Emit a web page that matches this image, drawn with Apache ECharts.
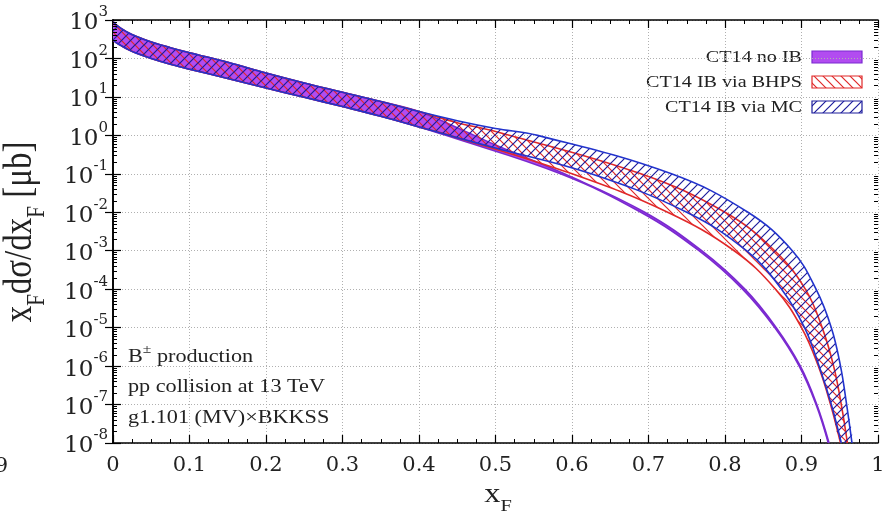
<!DOCTYPE html>
<html>
<head>
<meta charset="utf-8">
<script src="https://cdn.jsdelivr.net/npm/echarts@6/dist/echarts.min.js"></script>
<style>
  html, body { margin: 0; padding: 0; background: #fff; }
  #chart { width: 893px; height: 518px; }
</style>
</head>
<body>
<div id="chart"></div>
<script>
// ---- x_F sample points and band edges, x_F dσ/dx_F in μb ----
// region where all three predictions coincide
const X_LOW     = [0, 0.005, 0.01, 0.02, 0.03, 0.05, 0.075, 0.1, 0.15, 0.2, 0.25, 0.3, 0.35, 0.4];
const UPPER_LOW = [891, 724, 617, 468, 380, 269, 191, 141, 79.4, 41.7, 22.9, 13.2, 7.59, 4.17];
const LOWER_LOW = [302, 251, 219, 170, 138, 100, 70.8, 52.5, 30.2, 17.0, 9.77, 5.62, 3.16, 1.66];

// CT14 no IB
const X_NOIB_LO = [0.435, 0.585, 0.69, 0.766, 0.823, 0.865, 0.897, 0.919, 0.935];
const NOIB_LO   = [1.0, 0.1, 1e-2, 1e-3, 1e-4, 1e-5, 1e-6, 1e-7, 1e-8];
const X_NOIB_HI = [0.45, 0.5, 0.59, 0.695, 0.7695, 0.826, 0.867, 0.8985, 0.92, 0.936];
const NOIB_HI   = [1.58, 0.562, 0.1, 1e-2, 1e-3, 1e-4, 1e-5, 1e-6, 1e-7, 1e-8];

// CT14 IB via BHPS
const X_BHPS_LO = [0.44, 0.6, 0.725, 0.812, 0.866, 0.9, 0.922, 0.938, 0.951];
const BHPS_LO   = [1.0, 0.1, 1e-2, 1e-3, 1e-4, 1e-5, 1e-6, 1e-7, 1e-8];
const X_BHPS_HI = [0.45, 0.5, 0.69, 0.8, 0.865, 0.905, 0.927, 0.942, 0.952, 0.96];
const BHPS_HI   = [2.14, 1.26, 0.1, 1e-2, 1e-3, 1e-4, 1e-5, 1e-6, 1e-7, 1e-8];

// CT14 IB via MC
const X_MC_LO = [0.45, 0.5, 0.625, 0.75, 0.828, 0.874, 0.904, 0.923, 0.939, 0.952];
const MC_LO   = [0.871, 0.468, 0.1, 1e-2, 1e-3, 1e-4, 1e-5, 1e-6, 1e-7, 1e-8];
const X_MC_HI = [0.45, 0.5, 0.555, 0.73, 0.83, 0.888, 0.919, 0.939, 0.951, 0.959, 0.966];
const MC_HI   = [2.40, 1.51, 1.0, 0.1, 1e-2, 1e-3, 1e-4, 1e-5, 1e-6, 1e-7, 1e-8];

// tick labels and legend / annotation text
const X_TICK_LABELS = ['0', '0.1', '0.2', '0.3', '0.4', '0.5', '0.6', '0.7', '0.8', '0.9', '1'];
const LEGEND_NAMES = ['CT14 no IB', 'CT14 IB via BHPS', 'CT14 IB via MC'];
const NOTES = ['pp collision at 13 TeV', 'g1.101 (MV)\u00d7BKKSS'];

const TICK_FONT = '"DejaVu Serif", "Liberation Serif", serif';
const SERIF = '"Liberation Serif", "DejaVu Serif", serif';
const WIDE = 1.2;            // horizontal stretch applied to free text
const TXT = '#222';
const PURPLE_FILL = '#b24cf0';
const PURPLE_EDGE = '#7a2ad0';
const RED = '#e02828';
const BLUE = '#2233cc';
const NAVY = '#1c1c9c';

function hatch(color, forward) {
  const s = 9;
  const c = document.createElement('canvas');
  c.width = s; c.height = s;
  const g = c.getContext('2d');
  g.strokeStyle = color;
  g.lineWidth = 1.2;
  g.beginPath();
  if (forward) {          // '/'
    g.moveTo(-1, s + 1); g.lineTo(s + 1, -1);
    g.moveTo(-1, 1); g.lineTo(1, -1);
    g.moveTo(s - 1, s + 1); g.lineTo(s + 1, s - 1);
  } else {                // '\'
    g.moveTo(-1, -1); g.lineTo(s + 1, s + 1);
    g.moveTo(s - 1, -1); g.lineTo(s + 1, 1);
    g.moveTo(-1, s - 1); g.lineTo(1, s + 1);
  }
  g.stroke();
  return { image: c, repeat: 'repeat' };
}

const bands = [
  { name: LEGEND_NAMES[0], xLo: X_LOW.concat(X_NOIB_LO), lo: LOWER_LOW.concat(NOIB_LO),
    xHi: X_LOW.concat(X_NOIB_HI), hi: UPPER_LOW.concat(NOIB_HI),
    fill: PURPLE_FILL, edge: PURPLE_EDGE, z: 2 },
  { name: LEGEND_NAMES[1], xLo: X_LOW.concat(X_BHPS_LO), lo: LOWER_LOW.concat(BHPS_LO),
    xHi: X_LOW.concat(X_BHPS_HI), hi: UPPER_LOW.concat(BHPS_HI),
    fill: hatch(RED, false), edge: RED, z: 3 },
  { name: LEGEND_NAMES[2], xLo: X_LOW.concat(X_MC_LO), lo: LOWER_LOW.concat(MC_LO),
    xHi: X_LOW.concat(X_MC_HI), hi: UPPER_LOW.concat(MC_HI),
    fill: hatch(NAVY, true), edge: BLUE, z: 4 }
];

const SMOOTH = 0.4;

function bandSeries(b) {
  return {
    type: 'custom', name: b.name, z: b.z, clip: true, silent: true,
    data: [[0.5, 1]],
    renderItem: function (params, api) {
      const up = b.xHi.map((x, i) => api.coord([x, b.hi[i]]));
      const dn = b.xLo.map((x, i) => api.coord([x, b.lo[i]]));
      const poly = up.concat(dn.slice().reverse());
      return {
        type: 'group',
        children: [
          { type: 'polygon', shape: { points: poly, smooth: SMOOTH, smoothConstraint: false }, style: { fill: b.fill, stroke: null } },
          { type: 'polyline', shape: { points: up, smooth: SMOOTH, smoothConstraint: false }, style: { fill: null, stroke: b.edge, lineWidth: 1.6 } },
          { type: 'polyline', shape: { points: dn, smooth: SMOOTH, smoothConstraint: false }, style: { fill: null, stroke: b.edge, lineWidth: 1.6 } }
        ]
      };
    }
  };
}

// log minor ticks (2..9 per decade) on left and right frame edges
const Y_MINOR = [];
for (let e = -8; e < 3; e++) for (let k = 2; k <= 9; k++) Y_MINOR.push(k * Math.pow(10, e));

const minorTickSeries = {
  type: 'custom', z: 6, silent: true, clip: false,
  data: [[0.5, 1]],
  renderItem: function (params, api) {
    const xl = api.coord([0, 1])[0], xr = api.coord([1, 1])[0];
    const ch = [];
    Y_MINOR.forEach(v => {
      const y = Math.round(api.coord([0, v])[1]) + 0.5;
      ch.push({ type: 'line', shape: { x1: xl, y1: y, x2: xl + 4, y2: y }, style: { stroke: '#000', lineWidth: 1 } });
      ch.push({ type: 'line', shape: { x1: xr - 4, y1: y, x2: xr, y2: y }, style: { stroke: '#000', lineWidth: 1 } });
    });
    return { type: 'group', children: ch };
  }
};

const axisLine = { show: true, lineStyle: { color: '#000', width: 1.6 } };
const majorTick = { show: true, inside: true, length: 8, lineStyle: { color: '#000', width: 1.2 } };
const gridDots = { show: true, lineStyle: { color: '#b0b0b0', width: 1, type: [1, 2] } };

function yLabel(v) {
  const e = Math.round(Math.log10(v));
  return '{b|10}{s|' + e + '}';
}

const legendChildren = [];
const swatchFills = [
  { fill: PURPLE_FILL, stroke: PURPLE_EDGE },
  { fill: hatch(RED, false), stroke: RED },
  { fill: hatch(NAVY, true), stroke: NAVY }
];
const rowY = [57, 82, 107];
LEGEND_NAMES.forEach((n, i) => {
  legendChildren.push({
    type: 'text', x: 802, y: rowY[i], scaleX: 1.15,
    style: { text: n, font: '17.5px ' + SERIF, fill: TXT, align: 'right', verticalAlign: 'middle' }
  });
  legendChildren.push({
    type: 'rect', shape: { x: 812, y: rowY[i] - 6, width: 50, height: 12 },
    style: { fill: swatchFills[i].fill, stroke: swatchFills[i].stroke, lineWidth: 1.2 }
  });
});

const subRich = (size, subSize) => ({
  m: { fontFamily: SERIF, fontSize: size, fill: TXT, color: TXT, padding: [0, 0, Math.round(size * 0.25), 0], verticalAlign: 'top' },
  u: { fontFamily: SERIF, fontSize: subSize, fill: TXT, color: TXT, verticalAlign: 'bottom' }
});

const chart = echarts.init(document.getElementById('chart'), null, { renderer: 'canvas' });
chart.setOption({
  animation: false,
  backgroundColor: '#fff',
  grid: { left: 113, right: 15, top: 20, bottom: 75, containLabel: false },
  xAxis: [
    {
      type: 'value', min: 0, max: 1, interval: 0.1, position: 'bottom',
      axisLine: axisLine, axisTick: majorTick,
      minorTick: { show: true, splitNumber: 4, length: 4, lineStyle: { color: '#000', width: 1 } },
      splitLine: gridDots,
      axisLabel: {
        margin: 12, color: TXT, fontFamily: TICK_FONT, fontSize: 21,
        formatter: v => X_TICK_LABELS[Math.round(v * 10)]
      }
    },
    {
      type: 'value', min: 0, max: 1, interval: 0.1, position: 'top',
      axisLine: axisLine, axisTick: majorTick,
      minorTick: { show: true, splitNumber: 4, length: 4, lineStyle: { color: '#000', width: 1 } },
      splitLine: { show: false }, axisLabel: { show: false }
    }
  ],
  yAxis: [
    {
      type: 'log', logBase: 10, min: 1e-8, max: 1e3, interval: 1, position: 'left',
      axisLine: axisLine, axisTick: majorTick, splitLine: gridDots,
      minorTick: { show: false },
      axisLabel: {
        margin: 5, color: TXT, formatter: yLabel,
        rich: {
          b: { fontFamily: TICK_FONT, fontSize: 23, color: TXT, padding: [7, 0, 0, 0], verticalAlign: 'bottom' },
          s: { fontFamily: TICK_FONT, fontSize: 15, color: TXT, verticalAlign: 'top' }
        }
      }
    },
    {
      type: 'log', logBase: 10, min: 1e-8, max: 1e3, interval: 1, position: 'right',
      axisLine: axisLine, axisTick: majorTick, splitLine: { show: false },
      axisLabel: { show: false }
    }
  ],
  series: bands.map(bandSeries).concat([minorTickSeries]),
  graphic: [
    // axis titles
    {
      type: 'text', x: 25, y: 232, rotation: Math.PI / 2, scaleY: WIDE,
      style: {
        text: '{m|x}{u|F}{m|d\u03c3/dx}{u|F}{m| [\u03bcb]}',
        align: 'center', verticalAlign: 'middle',
        rich: subRich(33, 21)
      }
    },
    {
      type: 'text', x: 498, y: 498, scaleX: WIDE,
      style: {
        text: '{m|x}{u|F}',
        align: 'center', verticalAlign: 'middle',
        rich: subRich(27, 17)
      }
    },
    // neighbouring panel's clipped tick label
    { type: 'text', x: 8, y: 467, style: { text: '9', font: '21px ' + TICK_FONT, fill: TXT, align: 'right', verticalAlign: 'middle' } },
    // annotation
    {
      type: 'text', x: 128, y: 355, scaleX: WIDE,
      style: {
        text: '{m|B}{p|\u00b1}{m| production}', align: 'left', verticalAlign: 'middle',
        rich: {
          m: { fontFamily: SERIF, fontSize: 18.5, fill: TXT, color: TXT, padding: [5, 0, 0, 0], verticalAlign: 'bottom' },
          p: { fontFamily: SERIF, fontSize: 13, fill: TXT, color: TXT, verticalAlign: 'top' }
        }
      }
    },
    { type: 'text', x: 128, y: 387, scaleX: WIDE, style: { text: NOTES[0], font: '18.5px ' + SERIF, fill: TXT, align: 'left', verticalAlign: 'middle' } },
    { type: 'text', x: 128, y: 418, scaleX: WIDE, style: { text: NOTES[1], font: '18.5px ' + SERIF, fill: TXT, align: 'left', verticalAlign: 'middle' } },
    // key
    { type: 'group', z: 100, children: legendChildren }
  ]
});
</script>
</body>
</html>
